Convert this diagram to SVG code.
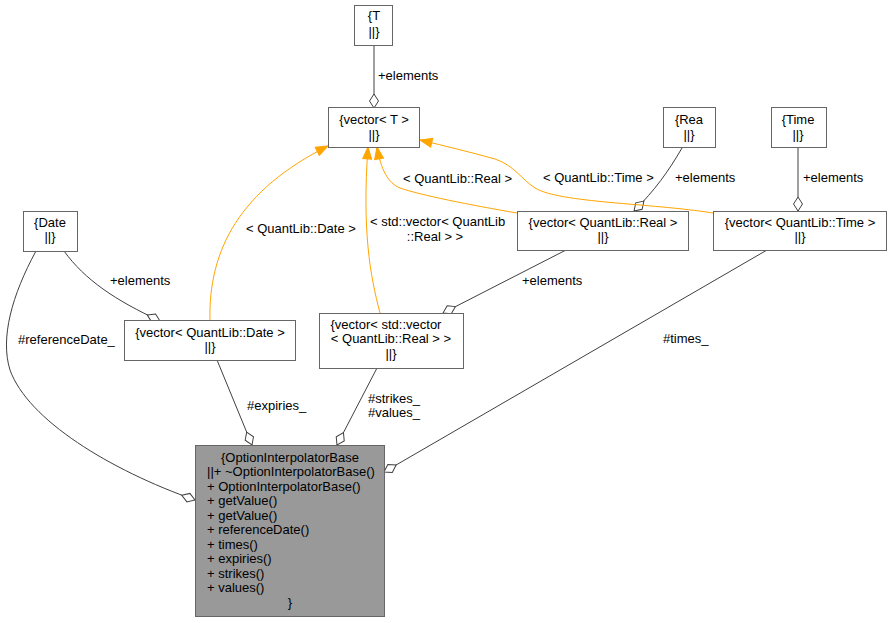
<svg xmlns="http://www.w3.org/2000/svg" width="890" height="623" viewBox="0 0 890 623">
<style>
text{font-family:"Liberation Sans",Arial,Helvetica,sans-serif;font-size:13px;fill:#000}
.n rect{fill:#fff;stroke:#666;stroke-width:1}
.cur rect{fill:#999;stroke:#666}
.m{text-anchor:middle}
.e{fill:none;stroke:#404040;stroke-width:1}
.o{fill:none;stroke:#FFA500;stroke-width:1}
</style>
<defs>
<marker id="dia" markerUnits="userSpaceOnUse" orient="auto" refX="14" refY="0" markerWidth="16" markerHeight="12" viewBox="-1 -6 16 12" overflow="visible">
<path d="M0,0 L7,-4.5 L14,0 L7,4.5 Z" fill="#fff" stroke="#404040"/>
</marker>
<marker id="arr" markerUnits="userSpaceOnUse" orient="auto" refX="12" refY="0" markerWidth="14" markerHeight="12" viewBox="-1 -6 14 12" overflow="visible">
<path d="M0,-4.5 L12,0 L0,4.5 Z" fill="#FFA500" stroke="#FFA500"/>
</marker>
</defs>

<g id="connectors">
<path class="e" d="M374,45 L374,108" marker-end="url(#dia)"/>
<path class="e" d="M64,251 C85,280 115,300 160,321" marker-end="url(#dia)"/>
<path class="e" d="M36,251 C12,295 0,338 10,370 C28,420 110,470 195,500" marker-end="url(#dia)"/>
<path class="e" d="M217,360 L252,445" marker-end="url(#dia)"/>
<path class="e" d="M377,368 L337,445" marker-end="url(#dia)"/>
<path class="e" d="M767,250 L384,472" marker-end="url(#dia)"/>
<path class="e" d="M682,148 C668,172 655,190 634,211" marker-end="url(#dia)"/>
<path class="e" d="M798,148 L798,211" marker-end="url(#dia)"/>
<path class="e" d="M566,250 L443,313" marker-end="url(#dia)"/>
<path class="o" d="M210,321 C208,250 240,190 328,146" marker-end="url(#arr)"/>
<path class="o" d="M380,313 C370,275 362,230 368,147" marker-end="url(#arr)"/>
<path class="o" d="M517,213 C470,205 420,195 400,188 C388,183 381,170 377,147" marker-end="url(#arr)"/>
<path class="o" d="M713,213 C650,203 560,203 535,188 C520,178 515,166 495,159 C470,152 445,146 420,140" marker-end="url(#arr)"/>
<text x="378" y="80">+elements</text>
<text x="110" y="285">+elements</text>
<text x="18" y="344">#referenceDate_</text>
<text x="246" y="233">&lt; QuantLib::Date &gt;</text>
<text x="370" y="226">&lt; std::vector&lt; QuantLib</text>
<text x="435" y="241" class="m">::Real &gt; &gt;</text>
<text x="403" y="183">&lt; QuantLib::Real &gt;</text>
<text x="543" y="182">&lt; QuantLib::Time &gt;</text>
<text x="675" y="182">+elements</text>
<text x="803" y="182">+elements</text>
<text x="522" y="285">+elements</text>
<text x="663" y="343">#times_</text>
<text x="247" y="410">#expiries_</text>
<text x="368" y="403">#strikes_</text>
<text x="368" y="417">#values_</text>
</g>

<g id="node_T" class="n">
<rect x="354.5" y="5.5" width="38" height="40"/>
<text x="374" y="20" class="m">{T</text>
<text x="374" y="36" class="m">||}</text>
</g>
<g id="node_vectorT" class="n">
<rect x="328.5" y="107.5" width="91" height="40"/>
<text x="374" y="124" class="m">{vector&lt; T &gt;</text>
<text x="374" y="139" class="m">||}</text>
</g>
<g id="node_Date" class="n">
<rect x="23.5" y="211.5" width="54" height="40"/>
<text x="50" y="227" class="m">{Date</text>
<text x="50" y="241" class="m">||}</text>
</g>
<g id="node_vectorDate" class="n">
<rect x="124.5" y="320.5" width="171" height="40"/>
<text x="210" y="337" class="m">{vector&lt; QuantLib::Date &gt;</text>
<text x="210" y="351" class="m">||}</text>
</g>
<g id="node_vectorVector" class="n">
<rect x="319.5" y="313.5" width="144" height="55"/>
<text x="386" y="329" class="m">{vector&lt; std::vector</text>
<text x="391" y="343" class="m">&lt; QuantLib::Real &gt; &gt;</text>
<text x="391" y="358" class="m">||}</text>
</g>
<g id="node_Real" class="n">
<rect x="663.5" y="107.5" width="52" height="40"/>
<text x="689" y="124" class="m">{Rea</text>
<text x="689" y="139" class="m">||}</text>
</g>
<g id="node_Time" class="n">
<rect x="771.5" y="107.5" width="55" height="40"/>
<text x="798" y="124" class="m">{Time</text>
<text x="798" y="139" class="m">||}</text>
</g>
<g id="node_vectorReal" class="n">
<rect x="517.5" y="211.5" width="171" height="39"/>
<text x="603" y="227" class="m">{vector&lt; QuantLib::Real &gt;</text>
<text x="603" y="241" class="m">||}</text>
</g>
<g id="node_vectorTime" class="n">
<rect x="713.5" y="211.5" width="173" height="39"/>
<text x="800" y="227" class="m">{vector&lt; QuantLib::Time &gt;</text>
<text x="800" y="241" class="m">||}</text>
</g>
<g id="node_OptionInterpolatorBase" class="n cur">
<rect x="195.5" y="445.5" width="189" height="171"/>
<text x="290" y="461.5" class="m">{OptionInterpolatorBase</text>
<text x="207" y="476">||+ ~OptionInterpolatorBase()</text>
<text x="207" y="490.5">+ OptionInterpolatorBase()</text>
<text x="207" y="505">+ getValue()</text>
<text x="207" y="519.5">+ getValue()</text>
<text x="207" y="534">+ referenceDate()</text>
<text x="207" y="548.5">+ times()</text>
<text x="207" y="563">+ expiries()</text>
<text x="207" y="577.5">+ strikes()</text>
<text x="207" y="592">+ values()</text>
<text x="290" y="607" class="m">}</text>
</g>
</svg>
